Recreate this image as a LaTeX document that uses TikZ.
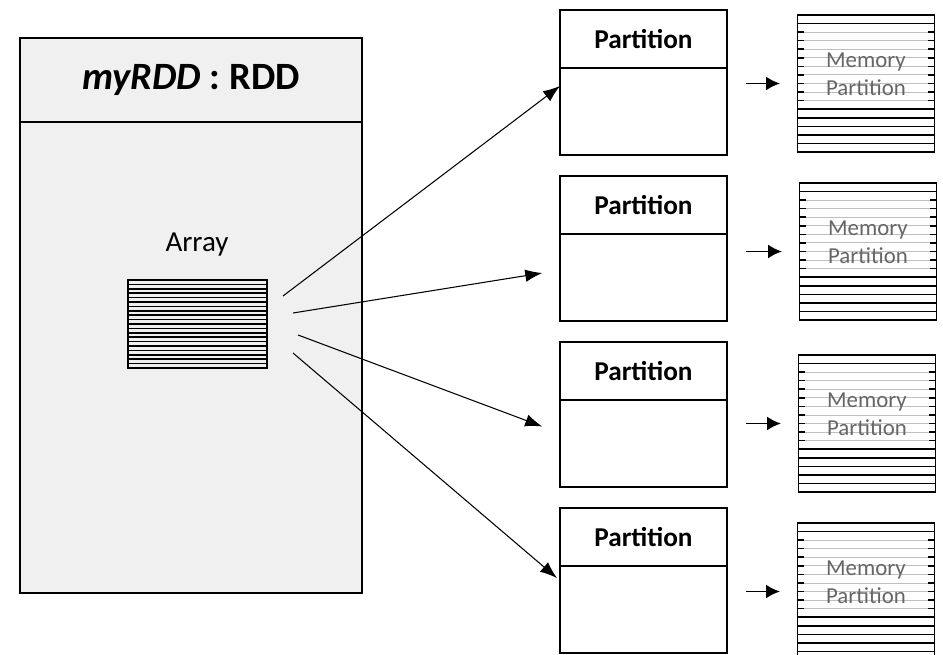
\documentclass[tikz,border=0pt]{standalone}
\usepackage{fontspec}
\setmainfont{Carlito}
\usetikzlibrary{arrows.meta,positioning,calc}

\begin{document}
\begin{tikzpicture}[
    x=0.02cm, y=-0.02cm,
    rddbox/.style={rectangle, draw=black, line width=1.2pt, fill=gray!12, minimum width=6.84cm, outer sep=0pt},
    parthead/.style={rectangle, draw=black, line width=1pt, minimum width=3.34cm, minimum height=1.16cm, outer sep=0pt, font=\fontsize{15.5}{18}\selectfont\bfseries},
    partbody/.style={rectangle, draw=black, line width=1pt, minimum width=3.34cm, minimum height=1.74cm, outer sep=0pt},
    stripes/.style={rectangle, draw=black, line width=0.9pt, minimum width=2.78cm, minimum height=1.76cm, outer sep=0pt,
        path picture={
            \foreach \k in {1,...,19}
                \draw[line width=0.9pt] ($(path picture bounding box.north west)!\k/20!(path picture bounding box.south west)$) -- ($(path picture bounding box.north east)!\k/20!(path picture bounding box.south east)$);
        }},
    mempart/.style={rectangle, draw=black, line width=1pt, minimum width=2.74cm, minimum height=2.74cm, outer sep=0pt,
        path picture={
            \foreach \k in {1,11,12,13,14,15}
                \draw[line width=0.9pt] ($(path picture bounding box.north west)!\k/16!(path picture bounding box.south west)$) -- ($(path picture bounding box.north east)!\k/16!(path picture bounding box.south east)$);
            \foreach \k in {2,...,10} {
                \coordinate (lw) at ($(path picture bounding box.north west)!\k/16!(path picture bounding box.south west)$);
                \coordinate (le) at ($(path picture bounding box.north east)!\k/16!(path picture bounding box.south east)$);
                \draw[gray!50, line width=0.5pt] (lw) -- (le);
                \draw[line width=0.9pt] (lw) -- ++(6,0) (le) -- ++(-6,0);
            }
        }},
    memtext/.style={text=black!60, align=center, font=\fontsize{13}{16}\selectfont},
    arrow/.style={-{Latex[length=3.4mm,width=2.5mm]}, line width=0.6pt},
    smallarrow/.style={-{Latex[length=2.8mm,width=2.8mm]}, line width=1.1pt}
]

\useasboundingbox (0,0) rectangle (943,655);

% RDD object
\node[rddbox, minimum height=1.68cm, font=\fontsize{22}{26}\selectfont\bfseries] (rddh) at (191,80) {\textit{myRDD} : RDD};
\node[rddbox, minimum height=9.42cm, below=0pt of rddh] (rddb) {};

% Array
\node[font=\fontsize{16.5}{20}\selectfont] (arrlabel) at (197,245) {Array};
\node[stripes] (arr) at (197.5,324) {};

% Partitions
\node[parthead] (p1h) at (643.5,39) {Partition};
\node[partbody, below=0pt of p1h] (p1b) {};
\node[parthead, below=0.42cm of p1b] (p2h) {Partition};
\node[partbody, below=0pt of p2h] (p2b) {};
\node[parthead, below=0.42cm of p2b] (p3h) {Partition};
\node[partbody, below=0pt of p3h] (p3b) {};
\node[parthead, below=0.42cm of p3b] (p4h) {Partition};
\node[partbody, below=0pt of p4h] (p4b) {};

% Memory partitions
\node[mempart] (m1) at (866,83.5) {};
\node[mempart] (m2) at (868,251.5) {};
\node[mempart] (m3) at (867,423.5) {};
\node[mempart] (m4) at (866,591.5) {};
\node[memtext] (m1t) at ([yshift=0.19cm]m1.center) {Memory\\Partition};
\node[memtext] (m2t) at ([yshift=0.19cm]m2.center) {Memory\\Partition};
\node[memtext] (m3t) at ([yshift=0.19cm]m3.center) {Memory\\Partition};
\node[memtext] (m4t) at ([yshift=0.19cm]m4.center) {Memory\\Partition};

% Arrows from array to partitions
\coordinate (s1) at (283,296);
\coordinate (s2) at (293,313);
\coordinate (s3) at (298,335);
\coordinate (s4) at (293,353);
\draw[arrow] (s1) -- (p1b.163);
\draw[arrow, shorten >=0.36cm] (s2) -- (p2b.175);
\draw[arrow, shorten >=0.38cm] (s3) -- (p3b.173);
\draw[arrow, shorten >=0.08cm] (s4) -- (p4b.161);

% Partition to memory
\draw[smallarrow, shorten <=0.38cm, shorten >=0.35cm] (p1b.east |- m1.west) -- (m1.west);
\draw[smallarrow, shorten <=0.38cm, shorten >=0.35cm] (p2b.east |- m2.west) -- (m2.west);
\draw[smallarrow, shorten <=0.38cm, shorten >=0.35cm] (p3b.east |- m3.west) -- (m3.west);
\draw[smallarrow, shorten <=0.38cm, shorten >=0.35cm] (p4b.east |- m4.west) -- (m4.west);

\end{tikzpicture}
\end{document}
